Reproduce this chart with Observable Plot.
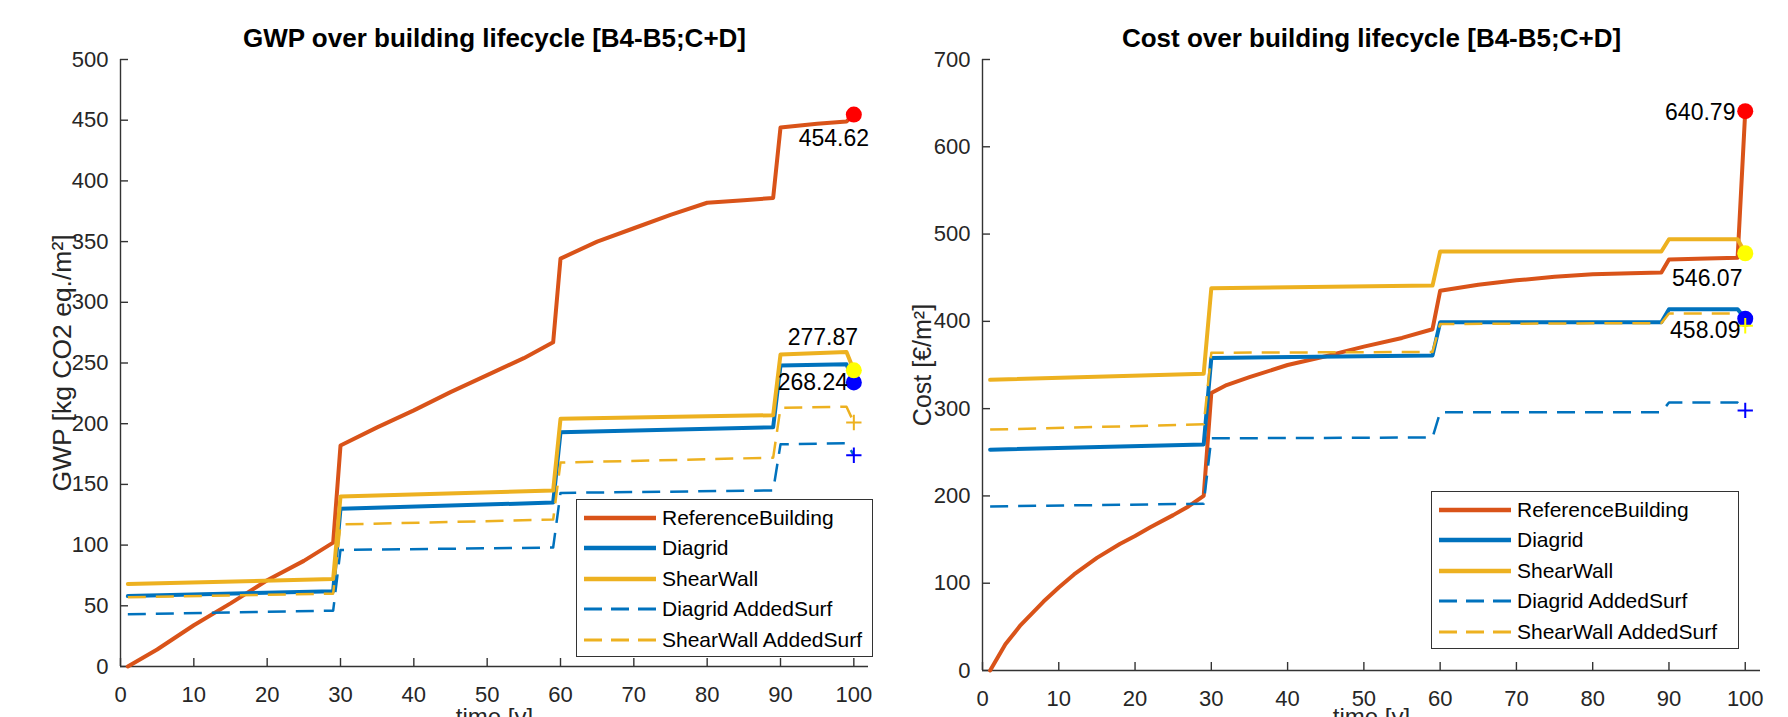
<!DOCTYPE html>
<html><head><meta charset="utf-8">
<script src="https://cdn.jsdelivr.net/npm/d3@7"></script>
<script src="https://cdn.jsdelivr.net/npm/@observablehq/plot@0.6"></script>
<style>
html,body{margin:0;padding:0;background:#fff;}
#root{position:relative;width:1788px;height:717px;overflow:hidden;background:#fff;font-family:"Liberation Sans",Arial,sans-serif;}
.panel{position:absolute;top:0;width:894px;height:717px;}
.legend{position:absolute;background:#fff;border:1.4px solid #333;box-sizing:border-box;}
.row{position:absolute;left:0;height:30px;display:flex;align-items:center;font-size:21px;color:#000;white-space:nowrap;}
.row svg{margin-left:7px;margin-right:6px;}
</style></head><body>
<div id="root"><div id="left" class="panel" style="left:0"></div><div id="right" class="panel" style="left:894px"></div></div>
<script>
// ---------- data ----------
const xTicks = [0,10,20,30,40,50,60,70,80,90,100];
const gwpTicks = [0,50,100,150,200,250,300,350,400,450,500];
const costTicks = [0,100,200,300,400,500,600,700];
const seriesNames = ["ReferenceBuilding","Diagrid","ShearWall","Diagrid AddedSurf","ShearWall AddedSurf"];
const stepYears = [1,29,30,59,60,89,90,99,100];

const gwpRefYears = [1,5,10,15,20,25,29,30,35,40,45,50,55,59,60,65,70,75,80,85,89,90,95,99,100];
const gwpRefValues = [0,14,34,52,71,87,102,182,197,211,226,240,254,267,336,350,361,372,382,384,386,444,447,449,454.62];
const gwpDiagridValues = [58,62,130,135,193,197,248,249,234];
const gwpShearWallValues = [68,72,140,145,204,207,257,259,244];
const gwpDiagridAddedValues = [43,46,96,98,143,145,183,184,174];
const gwpShearWallAddedValues = [57,60,117,121,168,172,213,214,201];

const costRefYears = [1,3,5,8,10,12,15,18,20,22,25,27,29,30,32,35,40,45,50,55,59,60,65,70,75,80,85,89,90,95,99,100];
const costRefValues = [0,30,52,79,95,110,129,145,154,164,178,188,200,318,327,336,350,360,371,381,391,435,442,447,451,454,455,456,471,472,473,640.79];
const costDiagridValues = [253,259,358,361,399,399,414,414,403];
const costShearWallValues = [333,340,438,441,480,480,494,494,478];
const costDiagridAddedValues = [188,191,266,267,296,296,307,307,298];
const costShearWallAddedValues = [276,282,364,365,397,398,409,409,395];

const endYear = 100;
const gwpCircleValues = [454.62, 234, 244];   // ReferenceBuilding, Diagrid, ShearWall at year 100
const gwpPlusValues = [174, 201];             // Diagrid AddedSurf, ShearWall AddedSurf at year 100
const gwpLabels = ["454.62","268.24","277.87"];
const costCircleValues = [640.79, 403, 478];
const costPlusValues = [298, 395];
const costLabels = ["640.79","458.09","546.07"];

// ---------- styles ----------
const axisColor = "#333";
const lineColors = ["#D95319","#0072BD","#EDB120","#0072BD","#EDB120"];
const lineWidths = [4,4,4,2.5,2.5];
const lineDashes = [null,null,null,"18,10","18,10"];
const circleColors = ["#FF0000","#0000FF","#FFFF00"];

function rows(years, values){ return years.map((t,i)=>({t, v: values[i]})); }

function makeChart(o){
  const W = 894, H = 717;
  const m = o.margins;
  const plotH = H - m.top - m.bottom;
  const plotW = W - m.left - m.right;
  const lineData = [rows(o.refYears, o.refValues), ...o.stepValues.map(v => rows(stepYears, v))];
  const marks = [
    Plot.ruleX([0], {stroke: axisColor, strokeWidth: 1.4}),
    Plot.ruleY([0], {stroke: axisColor, strokeWidth: 1.4}),
    Plot.tickX(xTicks, {x: d => d, stroke: axisColor, strokeWidth: 1.4, insetTop: plotH - 8}),
    Plot.tickY(o.yTicks, {y: d => d, stroke: axisColor, strokeWidth: 1.4, insetRight: plotW - 8}),
    Plot.axisX({ticks: xTicks, tickSize: 0, tickPadding: 19.5, label: null, fontSize: 22}),
    Plot.axisY({ticks: o.yTicks, tickSize: 0, tickPadding: 12, label: null, fontSize: 22}),
    ...lineData.map((d,i) => Plot.line(d, {x: "t", y: "v", stroke: lineColors[i], strokeWidth: lineWidths[i],
        strokeDasharray: lineDashes[i] || undefined, strokeLinecap: lineDashes[i] ? "butt" : "round", strokeLinejoin: "round"})),
    Plot.dot(o.circleValues, {x: () => endYear, y: d => d, r: 8, fill: (d,i) => circleColors[i], stroke: null}),
    Plot.dot(o.plusValues, {x: () => endYear, y: d => d, symbol: "plus", r: 5, stroke: (d,i) => o.plusColors[i], strokeWidth: 2}),
    ...o.labels.map((lab,i) => Plot.text([lab], {x: () => endYear, y: () => o.circleValues[i], text: d => d,
        dx: o.labelOffsets[i][0], dy: o.labelOffsets[i][1], fontSize: 23, fill: "black", textAnchor: "middle", lineAnchor: "middle"})),
    Plot.text([o.title], {frameAnchor: "top", dy: -21, text: d => d, fontSize: 26, fontWeight: "bold", fill: "black", textAnchor: "middle", lineAnchor: "middle"}),
    Plot.text([o.yLabel], {frameAnchor: "left", dx: o.yLabelDx, rotate: -90, text: d => d, fontSize: o.yLabelSize, fill: "#262626", textAnchor: "middle", lineAnchor: "middle"}),
    Plot.text(["time [y]"], {frameAnchor: "bottom", dy: o.xLabelDy, text: d => d, fontSize: 24, fill: "#262626", textAnchor: "middle", lineAnchor: "middle"})
  ];
  return Plot.plot({
    width: W, height: H,
    marginLeft: m.left, marginRight: m.right, marginTop: m.top, marginBottom: m.bottom,
    x: {domain: [0, 102]},
    y: {domain: o.yDomain},
    color: {type: "identity"},
    style: {background: "white", fontFamily: "'Liberation Sans', Arial, sans-serif", color: "#262626"},
    marks
  });
}

document.getElementById("left").appendChild(makeChart({
  yTicks: gwpTicks, yDomain: [0, 500],
  refYears: gwpRefYears, refValues: gwpRefValues,
  stepValues: [gwpDiagridValues, gwpShearWallValues, gwpDiagridAddedValues, gwpShearWallAddedValues],
  circleValues: gwpCircleValues, plusValues: gwpPlusValues, plusColors: ["#0000FF", "#EDB120"],
  labels: gwpLabels, labelOffsets: [[-20, 24], [-41, 0], [-31, -33]],
  title: "GWP over building lifecycle [B4-B5;C+D]", yLabel: "GWP [kg CO2 eq./m²]", yLabelSize: 26.5,
  margins: {left: 120, right: 26, top: 59, bottom: 51}, yLabelDx: -58, xLabelDy: 51
}));
document.getElementById("right").appendChild(makeChart({
  yTicks: costTicks, yDomain: [0, 700],
  refYears: costRefYears, refValues: costRefValues,
  stepValues: [costDiagridValues, costShearWallValues, costDiagridAddedValues, costShearWallAddedValues],
  circleValues: costCircleValues, plusValues: costPlusValues, plusColors: ["#0000FF", "#FFFF00"],
  labels: costLabels, labelOffsets: [[-45, 1], [-40, 12], [-38, 25]],
  title: "Cost over building lifecycle [B4-B5;C+D]", yLabel: "Cost [€/m²]", yLabelSize: 25,
  margins: {left: 88, right: 28, top: 59, bottom: 47}, yLabelDx: -60, xLabelDy: 47
}));

// ---------- legends ----------
function legend(parentLeft, top, width){
  const box = document.createElement("div");
  box.className = "legend";
  box.style.left = parentLeft + "px"; box.style.top = top + "px";
  box.style.width = width + "px"; box.style.height = "158px";
  seriesNames.forEach((name, i) => {
    const r = document.createElement("div");
    r.className = "row";
    r.style.top = (3 + i * 30.4) + "px";
    const dash = lineDashes[i] ? `stroke-dasharray="18,9"` : "";
    r.innerHTML = `<svg width="72" height="10"><line x1="0" y1="5" x2="72" y2="5" stroke="${lineColors[i]}" stroke-width="${lineWidths[i]+0.5}" ${dash}/></svg><span>${name}</span>`;
    box.appendChild(r);
  });
  document.getElementById("root").appendChild(box);
}
legend(576, 499, 297);
legend(1431, 491, 308);
</script></body></html>
